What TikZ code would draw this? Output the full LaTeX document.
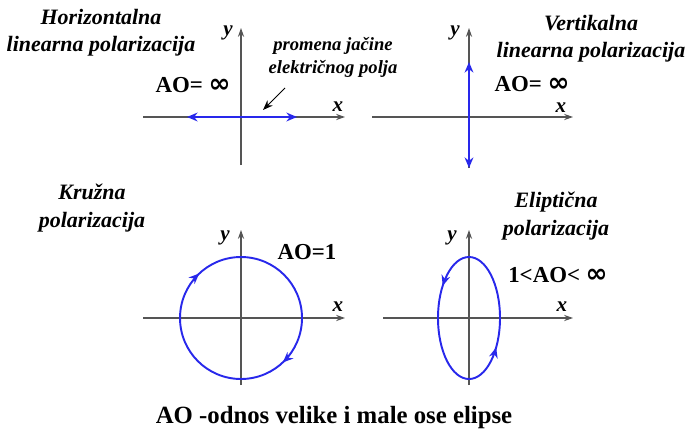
\documentclass[tikz,border=0pt]{standalone}
\usepackage{fontspec}
\setmainfont{Liberation Serif}
\newfontfamily\inffont{DejaVu Sans}
\usetikzlibrary{arrows.meta, positioning, decorations.markings}
\definecolor{polblue}{RGB}{40,40,235}
\definecolor{axisgray}{RGB}{85,85,85}
\newcommand{\infsign}{{\inffont\bfseries\fontsize{15}{15}\selectfont ∞}}

\begin{document}
\begin{tikzpicture}[x=0.02cm, y=0.02cm, >=Stealth,
        axis/.style={draw=axisgray, line width=0.7pt, -{Stealth[length=5pt,width=3.5pt]}},
        vec/.style={draw=polblue, line width=1.1pt, {Stealth[length=6pt,width=5pt]}-{Stealth[length=6pt,width=5pt]}},
        orbit/.style={draw=polblue, line width=1.1pt, postaction={decorate}},
        title/.style={font=\fontsize{12.5}{15.5}\selectfont\bfseries\itshape, align=center},
        ratio/.style={font=\fontsize{13}{15}\selectfont\bfseries, inner sep=1pt},
        lbl/.style={font=\fontsize{12}{14}\selectfont\bfseries\itshape, inner sep=1pt},
        note/.style={font=\fontsize{10.6}{13}\selectfont\bfseries\itshape, align=center}]
    \useasboundingbox (0,0) rectangle (689,430);

    % horizontalna
    \coordinate (h-xl) at (143,313);
    \coordinate (h-xr) at (345,313);
    \coordinate (h-yb) at (241,265);
    \coordinate (h-yt) at (241,402);
    \coordinate (h-vl) at (187,313);
    \coordinate (h-vr) at (297,313);
    \draw[axis] (h-xl) -- (h-xr);
    \draw[axis] (h-yb) -- (h-yt);
    \draw[vec] (h-vl) -- (h-vr);
    \node (h-y) [lbl] at (228,397) {y};
    \node (h-x) [lbl] at (338,323) {x};
    \node (h-ao) [ratio] at (193,345) {AO= \infsign};
    \node (h-title) [title] at (101,397) {Horizontalna\\linearna polarizacija};
    \node (h-note) [note] at (333,373) {promena jačine\\električnog polja};
    \coordinate (h-src) at (285,342);
    \coordinate (h-tgt) at (263,320);
    \draw[->, line width=0.6pt] (h-src) -- (h-tgt);

    % vertikalna
    \coordinate (v-xl) at (372,313);
    \coordinate (v-xr) at (573,313);
    \coordinate (v-yb) at (469,262);
    \coordinate (v-yt) at (469,402);
    \coordinate (v-vt) at (469,368);
    \coordinate (v-vb) at (469,262);
    \draw[axis] (v-xl) -- (v-xr);
    \draw[axis] (v-yb) -- (v-yt);
    \draw[vec] (v-vb) -- (v-vt);
    \node (v-y) [lbl] at (455,397) {y};
    \node (v-x) [lbl] at (561,322) {x};
    \node (v-ao) [ratio] at (532,346) {AO= \infsign};
    \node (v-title) [title] at (591,391) {Vertikalna\\linearna polarizacija};

    % kruzna
    \coordinate (k-xl) at (143,112);
    \coordinate (k-xr) at (345,112);
    \coordinate (k-yb) at (241,45);
    \coordinate (k-yt) at (241,200);
    \coordinate (k-c) at (241,112);
    \draw[axis] (k-xl) -- (k-xr);
    \draw[axis] (k-yb) -- (k-yt);
    \draw[orbit, decoration={markings,
            mark=at position 0.13 with {\arrow{Stealth[length=6pt,width=5pt]}},
            mark=at position 0.63 with {\arrow{Stealth[length=6pt,width=5pt]}}}]
        (k-c) ++(61,0) arc[start angle=0, end angle=-360, radius=61];
    \node (k-y) [lbl] at (225,192) {y};
    \node (k-x) [lbl] at (338,123) {x};
    \node (k-ao) [ratio] at (307,178) {AO=1};
    \node (k-title) [title] at (92,222) {Kružna\\polarizacija};

    % elipticna
    \coordinate (e-xl) at (383,112);
    \coordinate (e-xr) at (573,112);
    \coordinate (e-yb) at (469,45);
    \coordinate (e-yt) at (469,200);
    \coordinate (e-c) at (469,112);
    \draw[axis] (e-xl) -- (e-xr);
    \draw[axis] (e-yb) -- (e-yt);
    \draw[orbit, decoration={markings,
            mark=at position 0.39 with {\arrow{Stealth[length=6pt,width=5pt]}},
            mark=at position 0.9 with {\arrow{Stealth[length=6pt,width=5pt]}}}]
        (e-c) ++(31,0) arc[start angle=0, end angle=360, x radius=31, y radius=61];
    \node (e-y) [lbl] at (452,192) {y};
    \node (e-x) [lbl] at (562,123) {x};
    \node (e-ao) [ratio] at (558,155) {1<AO< \infsign};
    \node (e-title) [title] at (556,214) {Eliptična\\polarizacija};

    \node (caption) [font=\fontsize{14.1}{16}\selectfont\bfseries] at (334,12) {AO -odnos velike i male ose elipse};
\end{tikzpicture}
\end{document}
